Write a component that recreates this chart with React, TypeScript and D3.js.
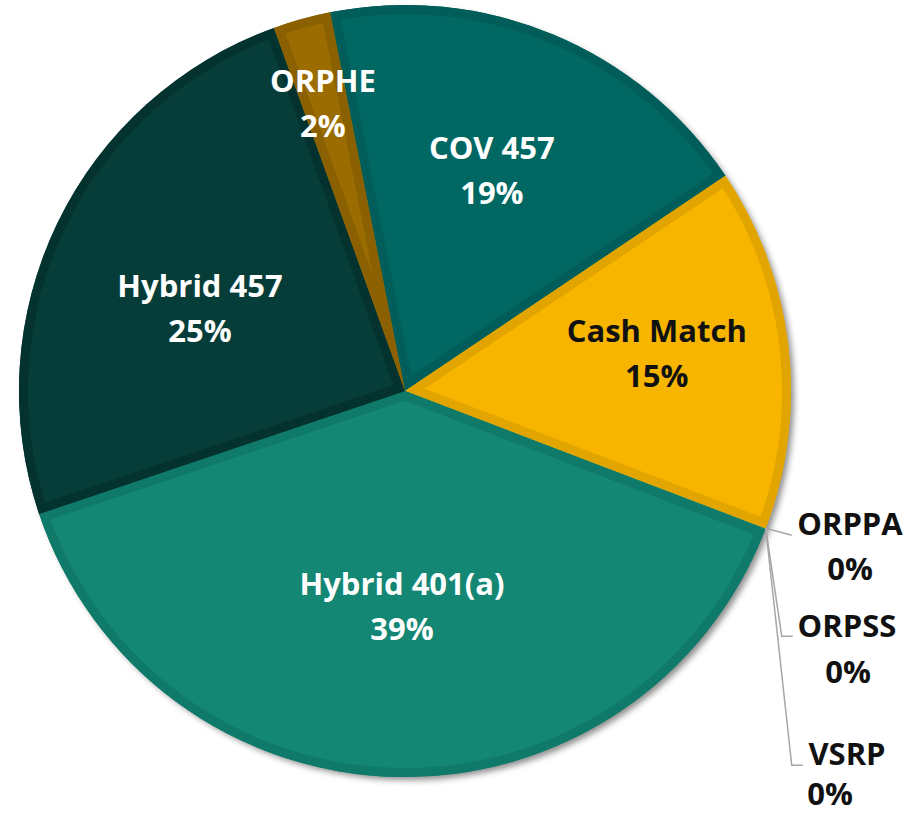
import React from "react";
import * as d3 from "d3";

const categories = ["COV 457", "Cash Match", "ORPPA", "ORPSS", "VSRP", "Hybrid 401(a)", "Hybrid 457", "ORPHE"];
const values = [18.7, 15.2, 0.03, 0.01, 0.01, 39.0, 24.65, 2.4];
const pctLabels = ["19%", "15%", "0%", "0%", "0%", "39%", "25%", "2%"];
const fills = ["#006763", "#F8B500", "#F8B500", "#F8B500", "#F8B500", "#148674", "#063D39", "#9B6D00"];
const bevels = ["#005D59", "#E2A500", "#E2A500", "#E2A500", "#E2A500", "#0F7A69", "#03322F", "#8A6000"];
const textColors = ["#fff", "#111", "#111", "#111", "#111", "#fff", "#fff", "#fff"];
const labelRadiusFrac = [0.589, 0.656, 0, 0, 0, 0.586, 0.563, 0.748];
const labelAngleShift = [0, 0.4, 0, 0, 0, -0.46, -6.4, -1];

const W = 908, H = 813;
const cx = 405, cy = 391, R = 386;
const startDeg = -11.2;

export default function App() {
  const pie = d3.pie<number>().sort(null).value((d) => d)
    .startAngle((startDeg * Math.PI) / 180)
    .endAngle((startDeg * Math.PI) / 180 + 2 * Math.PI);
  const arcs = pie(values);
  const arc = d3.arc<d3.PieArcDatum<number>>().innerRadius(0).outerRadius(R);
  const font = "'Open Sans', sans-serif";
  const fs = 31;

  const small = [2, 3, 4];
  const edgeAngle = arcs[2].startAngle;
  const ex = R * Math.sin(edgeAngle), ey = -R * Math.cos(edgeAngle);
  const leaders = [
    [[0, 0], [26, 7]],
    [[0, 0], [16, 108], [27, 108]],
    [[0, 0], [26, 237], [37, 237]],
  ];
  const smallLabels = [
    { x: 850, y1: 535, x2: 850, y2: 580 },
    { x: 847, y1: 637, x2: 848, y2: 683 },
    { x: 847, y1: 765, x2: 830, y2: 805 },
  ];

  return (
    <svg width={W} height={H} style={{ display: "block", position: "absolute", left: 0, top: 0 }}>
      <defs>
        <filter id="sh" x="-10%" y="-10%" width="120%" height="120%">
          <feDropShadow dx="4" dy="4" stdDeviation="3" floodColor="#000" floodOpacity="0.45" />
        </filter>
        {arcs.map((a, i) => (
          <clipPath id={`clip${i}`} key={i}>
            <path d={arc(a) || ""} />
          </clipPath>
        ))}
      </defs>
      <g transform={`translate(${cx},${cy})`}>
        <circle r={R - 1} fill="#148674" filter="url(#sh)" />
        {arcs.map((a, i) => {
          if (small.includes(i)) return null;
          return (
            <g key={i}>
              <path d={arc(a) || ""} fill={fills[i]} />
              <path d={arc(a) || ""} fill="none" stroke={bevels[i]} strokeWidth={18} clipPath={`url(#clip${i})`} strokeLinejoin="miter" />
            </g>
          );
        })}
        {arcs.map((a, i) => {
          if (small.includes(i)) return null;
          const mid = (a.startAngle + a.endAngle) / 2 + (labelAngleShift[i] * Math.PI) / 180;
          const rr = R * labelRadiusFrac[i];
          const x = rr * Math.sin(mid), y = -rr * Math.cos(mid);
          return (
            <text key={i} x={x} y={y} textAnchor="middle" fontFamily={font} fontWeight={700} fontSize={fs} fill={textColors[i]}>
              <tspan x={x} dy={-22}>{categories[i]}</tspan>
              <tspan x={x} dy={45}>{pctLabels[i]}</tspan>
            </text>
          );
        })}
        {leaders.map((pts, k) => (
          <polyline key={k} points={pts.map((p) => `${ex + p[0]},${ey + p[1]}`).join(" ")} fill="none" stroke="#a6a6a6" strokeWidth={1.5} />
        ))}
      </g>
      {small.map((i, k) => {
        const p = smallLabels[k];
        return (
          <g key={i}>
            <text x={p.x} y={p.y1} textAnchor="middle" fontFamily={font} fontWeight={700} fontSize={fs} fill={textColors[i]}>{categories[i]}</text>
            <text x={p.x2} y={p.y2} textAnchor="middle" fontFamily={font} fontWeight={700} fontSize={fs} fill={textColors[i]}>{pctLabels[i]}</text>
          </g>
        );
      })}
    </svg>
  );
}
